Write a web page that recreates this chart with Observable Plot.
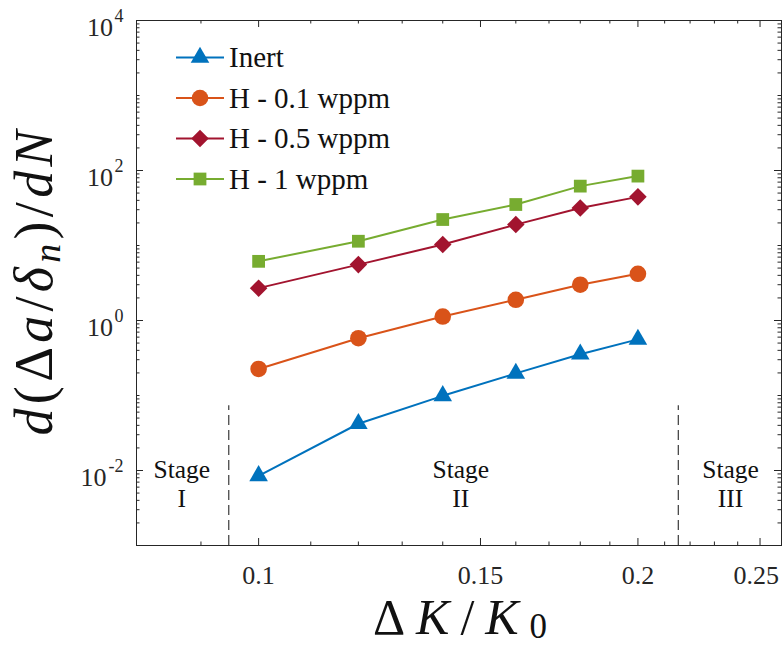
<!DOCTYPE html>
<html>
<head>
<meta charset="utf-8">
<script src="https://cdn.jsdelivr.net/npm/d3@7"></script>
<script src="https://cdn.jsdelivr.net/npm/@observablehq/plot@0.6"></script>
<style>
  html, body { margin: 0; padding: 0; background: #fff; }
  svg { display: block; }
</style>
</head>
<body>
<div id="chart"></div>
<script>
// ---- data ----
const deltaK = [0.1, 0.12, 0.14, 0.16, 0.18, 0.2];
const inert = [0.0085, 0.042, 0.099, 0.197, 0.355, 0.56];
const h01 = [0.226, 0.58, 1.13, 1.89, 3.0, 4.2];
const h05 = [2.7, 5.56, 10.3, 19.0, 31.7, 44.5];
const h1 = [6.15, 11.4, 22.2, 35.2, 61.9, 84.2];
const seriesNames = ["Inert", "H - 0.1 wppm", "H - 0.5 wppm", "H - 1 wppm"];
const seriesValues = [inert, h01, h05, h1];

const xMajor = [0.1, 0.15, 0.2, 0.25];
const xMinor = [0.09, 0.11, 0.12, 0.13, 0.14, 0.16, 0.17, 0.18, 0.19, 0.21, 0.22, 0.23, 0.24];
const yMajorExp = [-2, 0, 2, 4];
const stageNames = ["Stage\nI", "Stage\nII", "Stage\nIII"];
const stageX = [0.0869, 0.1447, 0.2369];
const stageY = 0.0068;
const boundaryX = [0.0947, 0.2153];
const boundaryTop = 0.073;

// ---- styling ----
const colors = ["#0072BD", "#D95319", "#A2142F", "#77AC30"];
const symbols = ["triangle", "circle", "diamond2", "square"];
const d3symbols = [d3.symbolTriangle, d3.symbolCircle, d3.symbolDiamond2, d3.symbolSquare];
const radii = [6.9, 8.3, 7.9, 7.2];
const axisColor = "#262626";
const font = "'Liberation Serif', 'Times New Roman', serif";

const W = 783, H = 647, mL = 136, mR = 2, mT = 20, mB = 102;
const frameW = W - mL - mR, frameH = H - mT - mB;

const rows = [];
seriesNames.forEach((s, i) => deltaK.forEach((x, j) => rows.push({series: s, x, y: seriesValues[i][j]})));

const yMajor = yMajorExp.map(e => Math.pow(10, e));
const yMinor = [];
for (let e = -3; e < 4; e++) {
  for (let m = 2; m <= 9; m++) yMinor.push(m * Math.pow(10, e));
  if (e !== -3 && !yMajorExp.includes(e)) yMinor.push(Math.pow(10, e));
}

const marks = [];
// dashed stage boundaries
marks.push(Plot.ruleX(boundaryX, {x: d => d, y1: 0.001, y2: boundaryTop, stroke: "#111", strokeWidth: 1, strokeDasharray: "10,5"}));
// ticks (inside, on all four sides)
const tk = (len) => ({
  bottom: {insetTop: frameH - len}, top: {insetBottom: frameH - len},
  left: {insetRight: frameW - len}, right: {insetLeft: frameW - len}
});
const maj = tk(7), mnr = tk(3.5);
for (const side of ["bottom", "top"]) {
  marks.push(Plot.tickX(xMajor, {x: d => d, stroke: axisColor, strokeWidth: 1, ...maj[side]}));
  marks.push(Plot.tickX(xMinor, {x: d => d, stroke: axisColor, strokeWidth: 1, ...mnr[side]}));
}
for (const side of ["left", "right"]) {
  marks.push(Plot.tickY(yMajor, {y: d => d, stroke: axisColor, strokeWidth: 1, ...maj[side]}));
  marks.push(Plot.tickY(yMinor, {y: d => d, stroke: axisColor, strokeWidth: 1, ...mnr[side]}));
}
marks.push(Plot.frame({stroke: axisColor, strokeWidth: 1}));
// tick labels
marks.push(Plot.text(xMajor.slice(0, -1), {x: d => d, frameAnchor: "bottom", dy: 30, text: d => String(d), fontSize: 26, fill: axisColor, lineAnchor: "middle"}));
marks.push(Plot.text(xMajor.slice(-1), {x: d => d, frameAnchor: "bottom", dy: 30, dx: 19, text: d => String(d), textAnchor: "end", fontSize: 26, fill: axisColor, lineAnchor: "middle"}));
marks.push(Plot.text(yMajorExp.filter(e => e >= 0), {y: e => Math.pow(10, e), frameAnchor: "left", dx: -23.5, dy: 7, text: () => "10", textAnchor: "end", fontSize: 26, fill: axisColor, lineAnchor: "middle"}));
marks.push(Plot.text(yMajorExp.filter(e => e < 0), {y: e => Math.pow(10, e), frameAnchor: "left", dx: -30, dy: 7, text: () => "10", textAnchor: "end", fontSize: 26, fill: axisColor, lineAnchor: "middle"}));
marks.push(Plot.text(yMajorExp, {y: e => Math.pow(10, e), frameAnchor: "left", dx: -13, dy: -4, text: e => String(e), textAnchor: "end", fontSize: 18, fill: axisColor, lineAnchor: "middle"}));
// stage labels
marks.push(Plot.text(stageNames, {x: (d, i) => stageX[i], y: () => stageY, text: d => d, fontSize: 25.5, fill: "#111", lineHeight: 1.15, lineAnchor: "middle"}));
// series
seriesNames.forEach((s, i) => {
  const data = rows.filter(r => r.series === s);
  marks.push(Plot.line(data, {x: "x", y: "y", stroke: colors[i], strokeWidth: 2}));
  marks.push(Plot.dot(data, {x: "x", y: "y", symbol: symbols[i], r: radii[i], fill: colors[i], stroke: "none"}));
});

const svg = Plot.plot({
  width: W, height: H,
  marginLeft: mL, marginRight: mR, marginTop: mT, marginBottom: mB,
  style: {fontFamily: font, background: "#fff", overflow: "visible"},
  x: {type: "log", domain: [0.08, 0.26], axis: null},
  y: {type: "log", domain: [1e-3, 1e4], axis: null},
  marks
});
document.getElementById("chart").appendChild(svg);

const root = d3.select(svg);
// legend
const lg = root.append("g").attr("font-family", font).attr("font-size", 29).attr("text-anchor", "start");
seriesNames.forEach((s, i) => {
  const yy = 57.5 + i * 40.5;
  lg.append("line").attr("x1", 176).attr("x2", 224).attr("y1", yy).attr("y2", yy)
    .attr("stroke", colors[i]).attr("stroke-width", 2);
  lg.append("path").attr("d", d3.symbol(d3symbols[i], radii[i] * radii[i] * Math.PI)())
    .attr("transform", `translate(200,${yy})`).attr("fill", colors[i]);
  lg.append("text").attr("x", 229).attr("y", yy).attr("dy", "0.34em").attr("fill", "#111").text(s);
});

// axis titles (math)
function mathText(g, parts, subDy) {
  parts.forEach(p => {
    const t = g.append("tspan").text(p.t);
    if (p.i) t.attr("font-style", "italic");
    if (p.sub) t.attr("font-size", "0.7em").attr("dy", subDy + "em");
    if (p.back) t.attr("dy", (-subDy * 0.7) + "em");
  });
}
const yt = root.append("text")
  .attr("transform", "translate(52,283) rotate(-90)")
  .attr("text-anchor", "middle").attr("font-family", font).attr("font-size", 54).attr("fill", "#111")
  .attr("textLength", 305).attr("lengthAdjust", "spacing");
mathText(yt, [
  {t: "d", i: true}, {t: "(Δ"}, {t: "a", i: true}, {t: "/"}, {t: "δ", i: true},
  {t: "n", i: true, sub: true}, {t: ")/", back: true}, {t: "dN", i: true}
], 0.22);
const xt = root.append("text")
  .attr("x", 460).attr("y", 634)
  .attr("text-anchor", "middle").attr("font-family", font).attr("font-size", 50).attr("fill", "#111")
  .attr("textLength", 174).attr("lengthAdjust", "spacing");
mathText(xt, [
  {t: "Δ"}, {t: "K", i: true}, {t: "/"}, {t: "K", i: true}, {t: "0", sub: true}
], 0.12);
</script>
</body>
</html>
